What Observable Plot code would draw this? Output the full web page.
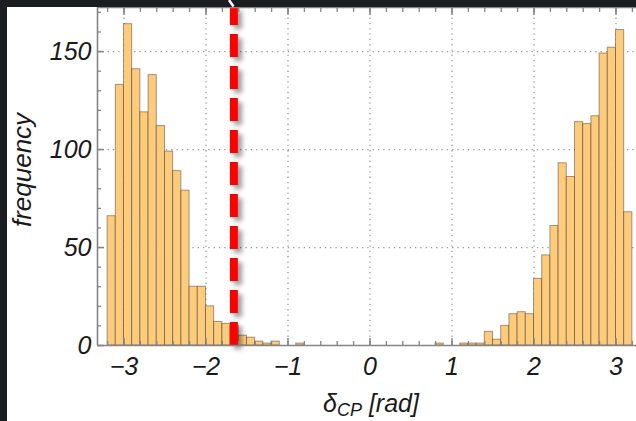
<!DOCTYPE html>
<html><head><meta charset="utf-8">
<script src="https://cdn.jsdelivr.net/npm/d3@7"></script>
<script src="https://cdn.jsdelivr.net/npm/@observablehq/plot@0.6"></script>
<style>
html,body{margin:0;padding:0;background:#fff;}
#wrap{position:relative;width:636px;height:421px;overflow:hidden;background:#fff;}
.band{position:absolute;background:#1c1d21;z-index:2;}
#slash{position:absolute;left:0;top:0;z-index:3;}
</style></head><body>
<div id="wrap">
  <div class="band" style="left:0;top:0;width:636px;height:7px"></div>
  <div class="band" style="left:0;top:0;width:7px;height:421px"></div>
  <svg id="slash" width="636" height="10"><line x1="229" y1="0" x2="233.5" y2="6.5" stroke="#fff" stroke-width="2.5"/></svg>
</div>
<script>
// histogram of delta_CP (bin width 0.1 rad); left edges and counts
const binLeft = [-3.2,-3.1,-3.0,-2.9,-2.8,-2.7,-2.6,-2.5,-2.4,-2.3,-2.2,-2.1,-2.0,-1.9,-1.8,-1.7,-1.6,-1.5,-1.4,-1.3,-1.2,-0.9,
                 0.8,1.1,1.2,1.3,1.4,1.5,1.6,1.7,1.8,1.9,2.0,2.1,2.2,2.3,2.4,2.5,2.6,2.7,2.8,2.9,3.0,3.1];
const counts  = [66,133,164,141,119,138,112,99,89,79,30,30,20,12,11,10,5,4,2,1,2,1,
                 1,1,1,1,7,3,10,16,17,16,34,46,61,93,86,114,113,117,149,152,161,68];
const binWidth = 0.1;
const xTicks = [-3,-2,-1,0,1,2,3];
const xMinorTicks = [-3.2,-3.0,-2.8,-2.6,-2.4,-2.2,-2.0,-1.8,-1.6,-1.4,-1.2,-1.0,-0.8,-0.6,-0.4,-0.2,0,0.2,0.4,0.6,0.8,1.0,1.2,1.4,1.6,1.8,2.0,2.2,2.4,2.6,2.8,3.0,3.2];
const yTicks = [0,50,100,150];
const yMinorTicks = [0,10,20,30,40,50,60,70,80,90,100,110,120,130,140,150,160,170];
const yGrid = [50,100,150];
const thresholdX = [-1.66];
const xDomain = [-3.323, 3.25];
const yDomain = [0, 172.5];

const bars = binLeft.map((x, i) => ({x1: x, x2: x + binWidth, y: counts[i]}));
const axisGray = "#858585";
const font = "'Liberation Sans', Arial, sans-serif";

const chart = Plot.plot({
  width: 636, height: 421,
  marginLeft: 97, marginRight: 0, marginTop: 7, marginBottom: 76,
  style: {fontFamily: font, fontSize: "25px", fontStyle: "italic", color: "#1a1a1a", background: "white", overflow: "visible"},
  x: {domain: xDomain},
  y: {domain: yDomain},
  marks: [
    Plot.gridX(xTicks, {stroke: "#9a9a9a", strokeOpacity: 1, strokeWidth: 1.3, strokeDasharray: "1.3,4"}),
    Plot.gridY(yGrid, {stroke: "#9a9a9a", strokeOpacity: 1, strokeWidth: 1.3, strokeDasharray: "1.3,4"}),
    Plot.rectY(bars, {x1: "x1", x2: "x2", y: "y", fill: "#fdcb7c", stroke: "#000", strokeOpacity: 0.36, strokeWidth: 1}),
    Plot.ruleX(thresholdX, {x: d => d, y1: () => yDomain[0], y2: () => yDomain[1], stroke: "#ff0000", strokeWidth: 8, strokeDasharray: "23,9"}),
    Plot.ruleY([yDomain[0]], {stroke: axisGray, strokeWidth: 1.6}),
    Plot.ruleY([yDomain[1]], {stroke: axisGray, strokeWidth: 1.6}),
    Plot.ruleX([xDomain[0]], {stroke: axisGray, strokeWidth: 1.6}),
    Plot.axisX(xMinorTicks, {anchor: "bottom", tickSize: -4, fill: "none", stroke: axisGray, strokeWidth: 1.3, label: null}),
    Plot.axisX(xTicks, {anchor: "bottom", tickSize: -7, fill: "none", stroke: axisGray, strokeWidth: 1.5, label: null}),
    Plot.axisX(xMinorTicks, {anchor: "top", tickSize: -4, fill: "none", stroke: axisGray, strokeWidth: 1.3, label: null}),
    Plot.axisX(xTicks, {anchor: "top", tickSize: -7, fill: "none", stroke: axisGray, strokeWidth: 1.5, label: null}),
    Plot.axisX(xTicks, {anchor: "bottom", tickSize: 0, tickPadding: 12, label: null}),
    Plot.axisY(yMinorTicks, {anchor: "left", tickSize: -4, fill: "none", stroke: axisGray, strokeWidth: 1.3, label: null}),
    Plot.axisY(yTicks, {anchor: "left", tickSize: -7, fill: "none", stroke: axisGray, strokeWidth: 1.5, label: null}),
    Plot.axisY(yTicks, {anchor: "left", tickSize: 0, tickPadding: 6, label: null})
  ]
});

const svg = d3.select(chart);
svg.selectAll('g[aria-label="rule"]').filter(function() { return this.getAttribute("stroke") === "#ff0000"; })
   .style("filter", "drop-shadow(4px 4px 2.5px rgba(0,0,0,0.4))");

// axis labels
svg.append("text")
  .attr("transform", "translate(31,170) rotate(-90)")
  .attr("text-anchor", "middle")
  .attr("fill", "#1a1a1a")
  .style("font-size", "26px")
  .text("frequency");
const xl = svg.append("text")
  .attr("x", 371).attr("y", 412)
  .attr("text-anchor", "middle")
  .attr("fill", "#1a1a1a")
  .style("font-size", "25px");
xl.append("tspan").text("δ");
xl.append("tspan").attr("dy", 4).style("font-size", "18px").text("CP");
xl.append("tspan").attr("dy", -4).text(" [rad]");

document.getElementById("wrap").prepend(chart);
chart.style.position = "absolute";
chart.style.left = "0px";
chart.style.top = "0px";
</script>
</body></html>
